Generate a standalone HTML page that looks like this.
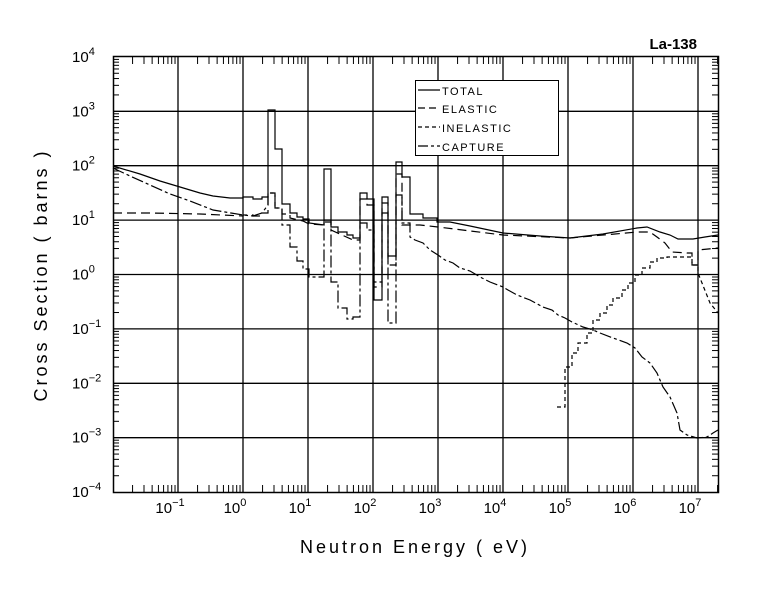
<!DOCTYPE html>
<html><head><meta charset="utf-8"><style>
html,body{margin:0;padding:0;background:#fff;}
svg{display:block;font-family:"Liberation Sans",sans-serif;}
</style></head><body>
<svg id="s" width="780" height="590" viewBox="0 0 780 590" xmlns="http://www.w3.org/2000/svg">
<rect width="780" height="590" fill="#fff"/>
<g id="grid" stroke="#000" stroke-width="1.3" fill="none"></g>
<g id="ticks" stroke="#000" stroke-width="1" fill="none"></g>
<rect x="113.5" y="56.5" width="605" height="436" fill="none" stroke="#000" stroke-width="1.5"/>
<g id="labels" font-size="15" fill="#000"></g>
<text x="697" y="49" font-size="15" font-weight="bold" text-anchor="end">La-138</text>
<text transform="translate(47,275) rotate(-90)" font-size="18" text-anchor="middle" letter-spacing="3" fill="#000">Cross Section ( barns )</text>
<text x="415" y="553" font-size="18" text-anchor="middle" letter-spacing="3" fill="#000">Neutron Energy ( eV)</text>
<g fill="none" stroke="#000" stroke-width="1.2">
<polyline points="113,166 140,174 160,181 180,187 200,193 213,196 230,198 243,198 243,197 253,197 253,199 262,199 262,197 268,197 268,188 268,110 275,110 275,149 282,149 282,204 290,204 290,213 297,213 297,217 303,217 303,219 309,219 309,223 324,225 324,169 331,169 331,227 338,227 338,232 347,232 347,235 353,235 353,238 360,238 360,193 367,193 367,199 374,199 374,300 382,300 382,197 388,197 388,256 396,256 396,162 402,162 402,177 410,177 410,214 423,214 423,218 437,218 437,222 450,222 470,226 503,233 540,236 570,238 603,234 637,228 647,227 660,232 670,235 678,239 693,239 705,237 718,235"/>
<polyline stroke-dasharray="9,5" points="113,213 150,213 200,214 243,216 243,215 253,215 253,216 262,216 262,213 268,213 268,193 275,193 275,208 282,208 282,214 290,214 290,218 303,221 309,224 324,225 324,222 331,222 331,230 353,240 360,240 360,199 367,199 367,205 374,205 374,287 382,287 382,203 388,203 388,265 396,265 396,174 402,174 402,225 420,225 438,227 503,235 570,238 637,232 650,232 657,237 665,243 672,252 687,253 692,253 692,265 698,265 698,250 718,248"/>
<polyline stroke-dasharray="4,3" points="557,407 565,407 565,367 572,367 572,353 578,353 578,343 587,343 587,333 593,333 593,320 600,320 600,313 607,313 607,305 613,305 613,298 622,298 622,290 628,290 628,283 635,283 635,275 642,275 642,268 650,268 650,262 657,262 657,258 667,258 667,257 692,257 692,265 698,265 698,273 704,288 710,303 718,313"/>
<polyline stroke-dasharray="12,3,3,3" points="113,168 130,176 150,185 170,194 190,201 213,210 243,215 253,216 262,213 268,205 268,193 275,193 275,208 282,208 282,225 290,225 290,247 297,247 297,261 303,261 303,269 309,269 309,277 324,277 324,220 331,220 331,282 338,282 338,308 347,308 347,319 353,319 353,317 360,317 360,223 367,223 367,230 374,230 374,282 382,282 382,213 388,213 388,323 396,323 396,195 402,195 402,223 410,223 410,237 415,240 423,243 430,250 438,255 445,260 453,263 460,268 470,271 482,278 490,282 503,287 508,290 517,295 530,300 543,307 552,310 558,315 565,318 572,322 583,327 593,330 600,333 613,338 627,343 635,348 642,357 650,363 657,373 663,387 670,397 677,413 680,430 687,435 697,438 707,437 713,433 718,430"/>
</g>
<rect x="415.5" y="80.5" width="143" height="75" fill="#fff" stroke="#000" stroke-width="1"/>
<g stroke="#000" stroke-width="1.2">
<line x1="418" y1="90" x2="440" y2="90"/>
<line x1="418" y1="108" x2="440" y2="108" stroke-dasharray="7,4"/>
<line x1="418" y1="127" x2="440" y2="127" stroke-dasharray="4,3"/>
<line x1="418" y1="146" x2="440" y2="146" stroke-dasharray="10,3,3,3"/>
</g>
<g font-size="11" fill="#000" letter-spacing="1.5">
<text x="442" y="95">TOTAL</text>
<text x="442" y="113">ELASTIC</text>
<text x="442" y="132">INELASTIC</text>
<text x="442" y="151">CAPTURE</text>
</g>
</svg>
<script>
var NS="http://www.w3.org/2000/svg";
function X(l){return 243+65*l;}
function Y(l){return 274.5-54.4*l;}
var g=document.getElementById('grid'),t=document.getElementById('ticks'),lb=document.getElementById('labels');
function ln(p,x1,y1,x2,y2){var e=document.createElementNS(NS,'line');e.setAttribute('x1',x1);e.setAttribute('y1',y1);e.setAttribute('x2',x2);e.setAttribute('y2',y2);p.appendChild(e);}
function tx(x,y,s,sup,anchor){var e=document.createElementNS(NS,'text');e.setAttribute('x',x);e.setAttribute('y',y);if(anchor)e.setAttribute('text-anchor',anchor);e.textContent=s;var sp=document.createElementNS(NS,'tspan');sp.setAttribute('dy','-7');sp.setAttribute('font-size','11');sp.textContent=sup;e.appendChild(sp);lb.appendChild(e);}
for(var d=-1;d<=7;d++){var x=X(d);ln(g,x,57,x,492);tx(x-8,513,'10',d<0?'\u2212'+(-d):''+d,'middle');}
for(var d=-3;d<=3;d++){var y=Y(d);ln(g,113,y,718,y);}
for(var d=-4;d<=4;d++){tx(72,Y(d)+5,'10',d<0?'\u2212'+(-d):''+d);}
for(var d=-2;d<=7;d++){for(var k=2;k<=9;k++){var x=X(d+Math.log10(k));if(x>718)continue;ln(t,x,492,x,485);ln(t,x,57,x,64);}}
for(var d=-4;d<4;d++){for(var k=2;k<=9;k++){var y=Y(d+Math.log10(k));ln(t,113,y,119,y);ln(t,718,y,712,y);}}
</script>
</body></html>
